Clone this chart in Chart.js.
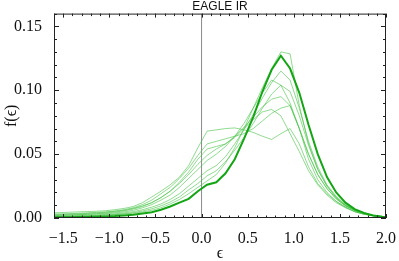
<!DOCTYPE html>
<html><head><meta charset="utf-8">
<script src="https://cdn.jsdelivr.net/npm/chart.js@4/dist/chart.umd.min.js"></script>
<style>html,body{margin:0;padding:0;background:#fff}#wrap{width:399px;height:261px}</style>
</head><body><div id="wrap"><canvas id="c" width="399" height="261"></canvas></div>
<script>
const eps = [-1.64,-1.54,-1.44,-1.34,-1.24,-1.14,-1.04,-0.94,-0.84,-0.74,-0.64,-0.54,-0.44,-0.34,-0.24,-0.14,-0.04,0.06,0.16,0.26,0.36,0.46,0.56,0.66,0.76,0.86,0.96,1.06,1.16,1.26,1.36,1.46,1.56,1.66,1.76,1.86,1.96,2.06];
const runThick = [0.0005,0.0005,0.0006,0.0007,0.0008,0.001,0.0012,0.0015,0.002,0.0025,0.0035,0.0045,0.0065,0.009,0.012,0.015,0.021,0.026,0.028,0.035,0.046,0.062,0.079,0.099,0.116,0.127,0.117,0.098,0.073,0.05,0.032,0.02,0.012,0.007,0.004,0.002,0.001,0.0005];
const runB = [0.001,0.001,0.0012,0.0014,0.0016,0.0019,0.0022,0.0026,0.003,0.0037,0.0047,0.006,0.008,0.011,0.0145,0.019,0.024,0.029,0.034,0.043,0.055,0.070,0.086,0.102,0.117,0.130,0.1285,0.088,0.058,0.038,0.025,0.016,0.010,0.006,0.0035,0.002,0.001,0.0005];
const runC = [0.0015,0.0016,0.0017,0.0019,0.0021,0.0024,0.0028,0.0033,0.004,0.005,0.0065,0.0085,0.011,0.0145,0.019,0.025,0.031,0.037,0.041,0.048,0.058,0.069,0.081,0.094,0.106,0.115,0.108,0.086,0.060,0.040,0.026,0.017,0.0105,0.0065,0.004,0.0022,0.0012,0.0005];
const runD = [0.002,0.0021,0.0023,0.0025,0.0028,0.0031,0.0035,0.004,0.0048,0.006,0.008,0.0105,0.014,0.018,0.024,0.031,0.038,0.045,0.050,0.056,0.064,0.074,0.086,0.098,0.108,0.104,0.090,0.070,0.050,0.034,0.023,0.015,0.0095,0.006,0.0035,0.002,0.001,0.0005];
const runE = [0.001,0.0011,0.0012,0.0014,0.0016,0.0019,0.0022,0.0027,0.0033,0.0042,0.0055,0.0072,0.0095,0.0125,0.0165,0.022,0.027,0.033,0.037,0.044,0.053,0.063,0.074,0.086,0.097,0.104,0.099,0.080,0.057,0.038,0.025,0.016,0.010,0.006,0.0035,0.002,0.001,0.0005];
const runF = [0.003,0.0032,0.0034,0.0037,0.004,0.0044,0.0048,0.0055,0.0065,0.008,0.0105,0.014,0.019,0.024,0.031,0.039,0.049,0.058,0.060,0.062,0.064,0.066,0.070,0.076,0.082,0.086,0.088,0.070,0.046,0.030,0.020,0.013,0.0085,0.005,0.003,0.0018,0.001,0.0005];
const runG = [0.0025,0.0027,0.003,0.0033,0.0036,0.004,0.0045,0.0052,0.006,0.0075,0.0095,0.012,0.016,0.021,0.028,0.036,0.046,0.054,0.056,0.058,0.063,0.070,0.077,0.083,0.085,0.080,0.066,0.052,0.037,0.026,0.018,0.012,0.008,0.005,0.003,0.0018,0.001,0.0005];
const runH = [0.004,0.0042,0.0045,0.0048,0.005,0.0053,0.0057,0.0065,0.0075,0.009,0.012,0.0165,0.021,0.026,0.032,0.041,0.055,0.068,0.069,0.070,0.0705,0.069,0.067,0.064,0.0615,0.066,0.070,0.058,0.040,0.027,0.019,0.013,0.0085,0.005,0.003,0.0018,0.001,0.0005];
const runI = [0.002,0.0022,0.0024,0.0027,0.003,0.0034,0.0039,0.0046,0.0056,0.007,0.009,0.012,0.016,0.021,0.027,0.034,0.042,0.049,0.054,0.058,0.064,0.071,0.079,0.087,0.093,0.095,0.088,0.070,0.050,0.034,0.023,0.015,0.0095,0.006,0.0035,0.002,0.001,0.0005];
const thinRuns = [runB, runC, runD, runE, runF, runG, runH, runI];
const zeroLineX = [0, 0];
const zeroLineY = [0, 0.16];
const xTicks = [-1.5,-1.0,-0.5,0.0,0.5,1.0,1.5,2.0];
const yTicks = [0.00,0.05,0.10,0.15];
const titleText = 'EAGLE IR';

const pts = ys => ys.map((y,i)=>({x:eps[i], y}));
const datasets = [];
datasets.push({data: zeroLineX.map((x,i)=>({x, y:zeroLineY[i]})), borderColor:'#8a8a8a', borderWidth:1, pointRadius:0, order:3});
thinRuns.forEach(r => datasets.push({data: pts(r), borderColor:'rgba(70,195,70,0.6)', borderWidth:1, pointRadius:0, order:2}));
datasets.push({data: pts(runThick), borderColor:'rgb(20,165,20)', borderWidth:2, pointRadius:0, order:1});

const fmt = v => { const s = Math.abs(v).toFixed(1); return (v < -1e-9 ? '\u2212' : '') + s; };

const frame = {
  id:'frame',
  afterDraw(chart){
    const {ctx, chartArea:a, scales:{x, y}} = chart;
    ctx.save();
    ctx.strokeStyle = '#222'; ctx.lineWidth = 1;
    ctx.strokeRect(a.left+0.5, a.top+0.5, a.right-a.left-1, a.bottom-a.top-1);
    ctx.beginPath();
    for (let k = -16; k <= 20; k++) {
      const v = k/10; const px = Math.round(x.getPixelForValue(v))+0.5;
      const L = (k % 5 === 0) ? 4 : 2.5;
      ctx.moveTo(px, a.bottom); ctx.lineTo(px, a.bottom - L);
      ctx.moveTo(px, a.top); ctx.lineTo(px, a.top + L);
    }
    for (let k = 0; k <= 16; k++) {
      const v = k/100; const py = Math.round(y.getPixelForValue(v))+0.5;
      const L = (k % 5 === 0) ? 5 : 3;
      ctx.moveTo(a.left, py); ctx.lineTo(a.left + L, py);
      ctx.moveTo(a.right, py); ctx.lineTo(a.right - L, py);
    }
    ctx.stroke();
    ctx.restore();
  }
};

new Chart(document.getElementById('c'), {
  type:'line',
  data:{datasets},
  options:{
    responsive:false, animation:false,
    layout:{padding:{left:0,right:10,top:0,bottom:0}},
    plugins:{
      legend:{display:false}, tooltip:{enabled:false},
      title:{display:true, fullSize:false, text:titleText, color:'#111', font:{family:'Liberation Sans', size:12, weight:'normal', lineHeight:1}, padding:{top:0,bottom:1}}
    },
    elements:{line:{tension:0}},
    scales:{
      x:{type:'linear', min:-1.6, max:2.0,
        afterBuildTicks: s => { s.ticks = xTicks.map(v=>({value:v})); },
        afterFit: s => { s.height = 43; },
        grid:{display:false}, border:{display:false},
        ticks:{color:'#111', padding:3, maxRotation:0, autoSkip:false, font:{family:'Liberation Serif', size:16}, callback: v => fmt(v)},
        title:{display:true, text:'\u03F5', color:'#111', font:{family:'Liberation Serif', size:16}, padding:{top:0,bottom:-2}}
      },
      y:{min:0, max:0.16,
        afterBuildTicks: s => { s.ticks = yTicks.map(v=>({value:v})); },
        afterFit: s => { s.width = 54; },
        grid:{display:false}, border:{display:false},
        ticks:{color:'#111', padding:4, font:{family:'Liberation Serif', size:16}, callback: v => v.toFixed(2)},
        title:{display:true, text:'f(\u03F5)', color:'#111', font:{family:'Liberation Serif', size:16}, padding:{top:2,bottom:0}}
      }
    }
  },
  plugins:[frame]
});
</script></body></html>
